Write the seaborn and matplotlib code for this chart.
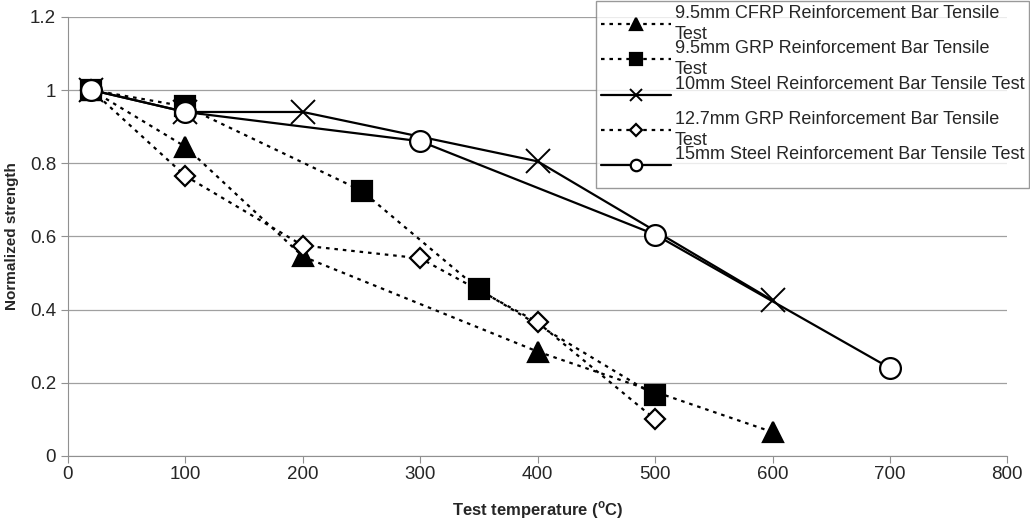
import matplotlib
matplotlib.use("Agg")
import matplotlib.pyplot as plt
from matplotlib.legend_handler import HandlerLine2D
import seaborn as sns
import pandas as pd

# ----------------------------
# DATA
# ----------------------------
cfrp_temp = [20, 100, 200, 400, 600]
cfrp_str = [1.0, 0.845, 0.545, 0.285, 0.065]

grp95_temp = [20, 100, 250, 350, 500]
grp95_str = [1.0, 0.955, 0.725, 0.455, 0.165]

steel10_temp = [20, 100, 200, 400, 600]
steel10_str = [1.0, 0.94, 0.94, 0.805, 0.425]

grp127_temp = [20, 100, 200, 300, 400, 500]
grp127_str = [1.0, 0.765, 0.575, 0.54, 0.365, 0.10]

steel15_temp = [20, 100, 300, 500, 700]
steel15_str = [1.0, 0.94, 0.86, 0.605, 0.24]

# every entry takes two lines in the legend, marker sits on the first
labels = [
    "9.5mm CFRP Reinforcement Bar Tensile\nTest",
    "9.5mm GRP Reinforcement Bar Tensile\nTest",
    "10mm Steel Reinforcement Bar Tensile Test\n ",
    "12.7mm GRP Reinforcement Bar Tensile\nTest",
    "15mm Steel Reinforcement Bar Tensile Test\n ",
]

dotted = (0, (1.6, 2.2))
series = [
    (cfrp_temp, cfrp_str, "^", "black", dotted),
    (grp95_temp, grp95_str, "s", "black", dotted),
    (steel10_temp, steel10_str, "x", "black", "-"),
    (grp127_temp, grp127_str, "D", "white", dotted),
    (steel15_temp, steel15_str, "o", "white", "-"),
]
sizes = [15, 15, 17, 10.5, 15]

# ----------------------------
# PLOT
# ----------------------------
sns.set_style("white")
plt.rcParams["font.family"] = ["Liberation Sans", "DejaVu Sans"]

fig, ax = plt.subplots(figsize=(10.3, 5.27), dpi=100)
fig.subplots_adjust(left=0.066, right=0.978, top=0.968, bottom=0.135)

for (t, s, mk, fc, ls), lab, ms in zip(series, labels, sizes):
    df = pd.DataFrame({"Temp": t, "Strength": s})
    sns.lineplot(data=df, x="Temp", y="Strength", ax=ax, color="black",
                 linestyle=ls, linewidth=1.6, marker=mk, markersize=ms,
                 markerfacecolor=fc, markeredgecolor="black",
                 markeredgewidth=1.6 if mk != "x" else 1.4,
                 label=lab, sort=False)

ax.set_xlim(0, 800)
ax.set_ylim(0, 1.2)
ax.set_xticks(range(0, 801, 100))
ax.set_yticks([0, 0.2, 0.4, 0.6, 0.8, 1.0, 1.2])
ax.set_yticklabels(["0", "0.2", "0.4", "0.6", "0.8", "1", "1.2"])

for lbl in ax.get_xticklabels() + ax.get_yticklabels():
    lbl.set_fontsize(13.5)

ax.set_xlabel("Test temperature ($^{\\mathregular{o}}$C)", fontsize=12,
              fontweight="bold", labelpad=12)
ax.set_ylabel("Normalized strength", fontsize=11, fontweight="bold",
              labelpad=8)

ax.grid(axis="y", color="#a0a0a0", linewidth=0.9)
ax.grid(axis="x", visible=False)
for side in ["top", "right"]:
    ax.spines[side].set_visible(False)
for side in ["left", "bottom"]:
    ax.spines[side].set_color("#909090")
ax.tick_params(axis="both", direction="out", length=5, color="#909090",
               bottom=True, left=True)
ax.tick_params(axis="x", pad=2)

handles, labs = ax.get_legend_handles_labels()
leg = ax.legend(handles, labs, loc="upper right",
                bbox_to_anchor=(1.023, 1.037),
                fontsize=13, frameon=True, fancybox=False,
                edgecolor="#808080", handlelength=3.9, labelspacing=-0.15,
                borderpad=0.25, handletextpad=0.2, borderaxespad=0,
                markerscale=0.55,
                handler_map={h: HandlerLine2D(ypad=1.6) for h in handles})
leg.get_frame().set_linewidth(1.0)
for txt in leg.get_texts():
    txt.set_linespacing(1.3)

plt.savefig("out.png", dpi=100)
